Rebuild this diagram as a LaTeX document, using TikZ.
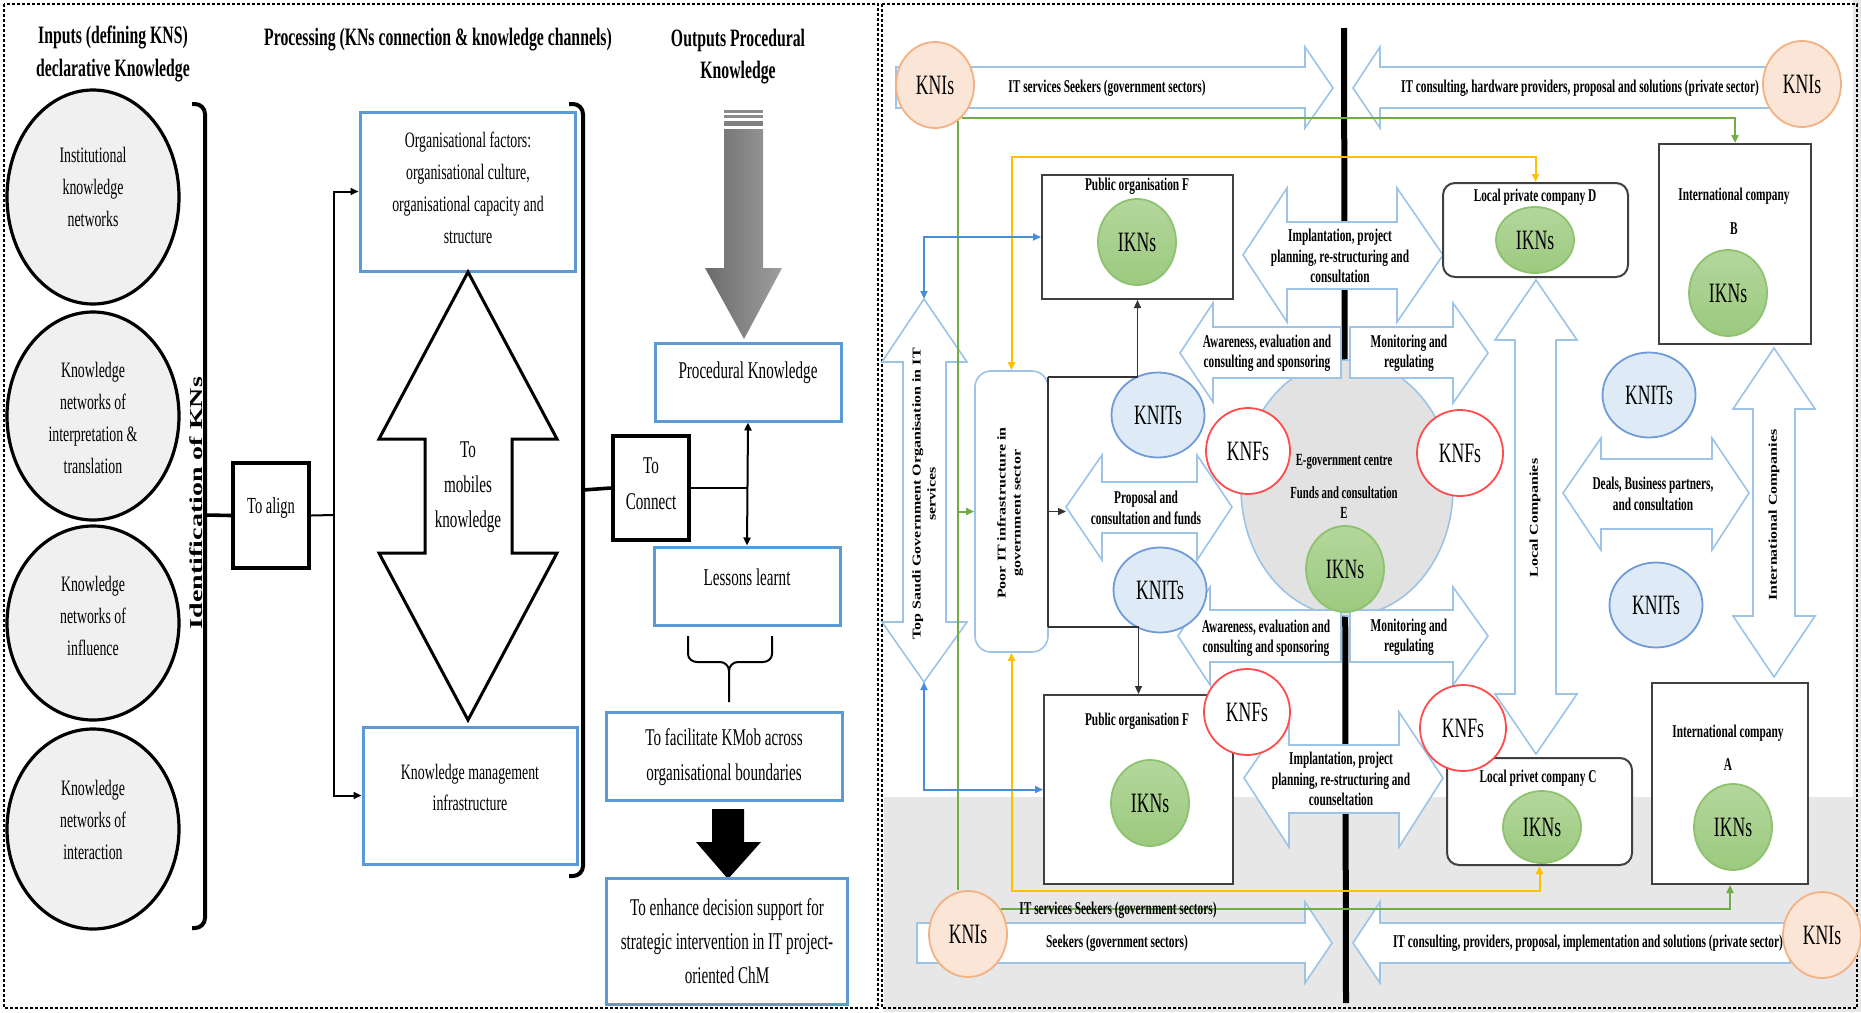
\documentclass[tikz,border=0pt]{standalone}
\usepackage{fontspec}
\usepackage{graphicx}
\setmainfont{Liberation Serif}[FakeStretch=0.63]
\newfontfamily\rotfont{Liberation Serif}
\usetikzlibrary{fit,arrows.meta,shapes.geometric}
\definecolor{boxblue}{HTML}{5B9BD5}
\definecolor{arrblue}{HTML}{9DC3E6}
\definecolor{knitfill}{HTML}{DEEBF7}
\definecolor{knitdraw}{HTML}{6F9BD8}
\definecolor{knfred}{HTML}{FF4B4B}
\definecolor{knifill}{HTML}{FBE5D6}
\definecolor{knidraw}{HTML}{F4B183}
\definecolor{iknA}{HTML}{B4D79C}
\definecolor{iknB}{HTML}{9CC97F}
\definecolor{ikndraw}{HTML}{8DC26F}
\definecolor{egov}{HTML}{E2E2E2}
\definecolor{bggray}{HTML}{E7E7E7}
\definecolor{lgreen}{HTML}{70AD47}
\definecolor{lyellow}{HTML}{FFC000}
\definecolor{lblue}{HTML}{4A8CD6}
\definecolor{circfill}{HTML}{F0F0F0}
\begin{document}
\begin{tikzpicture}[x=0.5pt,y=-0.5pt,
  >={Triangle[length=4pt,width=3.5pt]},
  dashbord/.style={draw=black,line width=1pt,dash pattern=on 1.5pt off 1pt},
  incirc/.style={ellipse,draw=black,line width=1.6pt,fill=circfill,minimum width=86pt,inner sep=0pt},
  obox/.style={draw=boxblue,line width=1.5pt,inner sep=0pt},
  kbox/.style={draw=black,line width=2.2pt,inner sep=0pt},
  cline/.style={draw=black,line width=1pt},
  barr/.style={draw=arrblue,fill=white,line width=0.8pt,line join=miter},
  pbox/.style={draw=black!75,line width=1pt,fill=white,inner sep=0pt},
  rbox/.style={draw=black!75,line width=1pt,fill=white,inner sep=0pt,rounded corners=6pt},
  knis/.style={ellipse,draw=knidraw,fill=knifill,line width=0.9pt,minimum width=39pt,minimum height=43pt,inner sep=0pt,font=\fontsize{14}{16}\selectfont},
  knfs/.style={ellipse,draw=knfred,fill=white,line width=0.9pt,minimum width=42pt,minimum height=43pt,inner sep=0pt,font=\fontsize{14}{16}\selectfont},
  knits/.style={ellipse,draw=knitdraw,fill=knitfill,line width=0.9pt,minimum width=46.5pt,minimum height=42.5pt,inner sep=0pt,font=\fontsize{14}{16}\selectfont},
  ikns/.style={ellipse,draw=ikndraw,top color=iknA,bottom color=iknB,line width=0.9pt,minimum width=39pt,minimum height=43pt,inner sep=0pt,font=\fontsize{14}{16}\selectfont},
  ttl/.style={font=\bfseries\fontsize{12.5}{15}\selectfont,inner sep=0pt},
  lt/.style={font=\fontsize{11}{16}\selectfont,align=center,inner sep=0pt},
  mt/.style={font=\fontsize{12}{17.5}\selectfont,align=center,inner sep=0pt},
  bl/.style={font=\bfseries\fontsize{9}{10.25}\selectfont,align=center,inner sep=0pt},
  gline/.style={draw=lgreen,line width=1pt},
  yline/.style={draw=lyellow,line width=1pt},
  bline/.style={draw=lblue,line width=1pt},
  kline/.style={draw=black!80,line width=0.7pt}
]
\useasboundingbox (0,0) rectangle (1861,1012);
\fill[white] (0,0) rectangle (1861,1012);
\fill[bggray] (884,797) rectangle (1861,1012);
\fill[bggray] (1853,0) rectangle (1861,797);
\draw[dashbord] (4,4) rectangle (878,1008);
\draw[dashbord] (882,4) rectangle (1857,1008);

% ================= LEFT PANEL =================
\node[ttl] at (113,37) {Inputs (defining KNS)};
\node[ttl] at (113,71) {declarative Knowledge};
\node[ttl] at (438,40) {Processing (KNs connection \& knowledge channels)};
\node[ttl] at (738,40) {Outputs Procedural};
\node[ttl] at (738,73) {Knowledge};

\node[incirc,minimum height=107pt] (c1) at (93,197) {};
\node[incirc,minimum height=104pt] (c2) at (93,416) {};
\node[incirc,minimum height=97pt] (c3) at (93,623) {};
\node[incirc,minimum height=100pt] (c4) at (93,829) {};
\node[lt] at (93,187) {Institutional\\knowledge\\networks};
\node[lt] at (93,418) {Knowledge\\networks of\\interpretation \&\\translation};
\node[lt] at (93,616) {Knowledge\\networks of\\influence};
\node[lt] at (93,820) {Knowledge\\networks of\\interaction};

\draw[line width=2pt,rounded corners=5pt] (192,104) -- (205,104) -- (205,928) -- (192,928);
\coordinate (braceL) at (205,515);
\node[rotate=90,inner sep=0pt] at (196,503) {\scalebox{1}[0.65]{\rotfont\bfseries\fontsize{14}{16}\selectfont Identification of KNs}};

\draw[line width=2pt,rounded corners=5pt] (569,104) -- (583,104) -- (583,876) -- (569,876);
\coordinate (braceR) at (583,490);

\node[kbox,fit={(233,463) (309,568)}] (toAlign) {};
\node[font=\fontsize{11.5}{14}\selectfont] at (271,508) {To align};

\node[obox,fit={(360,112) (575,271)}] (orgBox) {};
\node[lt] at (468,188) {Organisational factors:\\organisational culture,\\organisational capacity and\\structure};

\draw[line width=1.5pt,fill=white,line join=miter] (468,272) -- (557,439) -- (512,439) -- (512,553) -- (557,553) -- (468,720) -- (379,553) -- (425,553) -- (425,439) -- (379,439) -- cycle;
\node[mt] at (468,487) {To\\mobiles\\knowledge};

\node[obox,fit={(363,727) (577,864)}] (kmBox) {};
\node[font=\fontsize{11}{15.5}\selectfont,align=center] at (470,787) {Knowledge management\\infrastructure};

\node[kbox,fit={(613,436) (689,540)}] (toConnect) {};
\node[font=\fontsize{12}{18}\selectfont,align=center] at (651,484) {To\\Connect};

\shade[left color=black!58,right color=black!38] (724,129) -- (763,129) -- (763,268) -- (782,268) -- (744,339) -- (705,268) -- (724,268) -- cycle;
\fill[black!45] (724,110) rectangle (763,112.5);
\fill[black!45] (724,115) rectangle (763,118);
\fill[black!50] (724,121) rectangle (763,126);

\node[obox,fit={(655,343) (841,421)}] (procBox) {};
\node[mt] at (748,373) {Procedural Knowledge};
\node[obox,fit={(654,547) (840,625)}] (lessBox) {};
\node[mt] at (747,577) {Lessons learnt};
\node[obox,fit={(606,712) (842,800)}] (facBox) {};
\node[mt] at (724,757) {To facilitate KMob across\\organisational boundaries};
\fill[black] (712,809) -- (744,809) -- (744,842) -- (761,842) -- (728,879) -- (696,842) -- (712,842) -- cycle;
\node[obox,fit={(606,878) (847,1004)}] (enhBox) {};
\node[font=\fontsize{12}{17}\selectfont,align=center] at (727,941) {To enhance decision support for\\strategic intervention in IT project-\\oriented ChM};

\draw[line width=1.8pt] (braceL) -- (toAlign.west);
\coordinate (jA) at (334,515);
\draw[cline] (toAlign.east) -- (jA);
\draw[cline,->] (jA) |- (orgBox.west);
\draw[cline,->] (jA) |- (kmBox.west);
\draw[line width=1.8pt] (braceR) -- (toConnect.west);
\draw[cline] (toConnect.east) -- (toConnect.east -| procBox.south);
\draw[cline,<->] (procBox.south) -- (lessBox.north);
\draw[line width=1pt] (688,636) -- (688,654) to[out=-90,in=180] (697,662) -- (720,662) to[out=0,in=90] (729,671) -- (729,702);
\draw[line width=1pt] (772,636) -- (772,654) to[out=-90,in=0] (763,662) -- (738,662) to[out=180,in=90] (729,671);

% ================= RIGHT PANEL =================
\draw[line width=3pt] (1344,28) -- (1346,1003);
\node[ellipse,draw=arrblue,fill=egov,line width=0.8pt,minimum width=106pt,minimum height=128pt,inner sep=0pt] (egov) at (1347,488) {};

% block arrows
\draw[barr] (896,67) -- (1305,67) -- (1305,47) -- (1333,88) -- (1305,128) -- (1305,108) -- (896,108) -- cycle;
\draw[barr] (1775,67) -- (1380,67) -- (1380,47) -- (1353,88) -- (1380,128) -- (1380,108) -- (1775,108) -- cycle;
\draw[barr] (917,923) -- (1305,923) -- (1305,902) -- (1332,943) -- (1305,983) -- (1305,963) -- (917,963) -- cycle;
\draw[barr] (1790,923) -- (1380,923) -- (1380,902) -- (1353,943) -- (1380,983) -- (1380,963) -- (1790,963) -- cycle;
% horizontal double arrows
\draw[barr] (1243,255) -- (1287,188) -- (1287,222) -- (1397,222) -- (1397,188) -- (1443,255) -- (1397,322) -- (1397,289) -- (1287,289) -- (1287,322) -- cycle;
\draw[barr] (1244,778) -- (1289,712) -- (1289,745) -- (1399,745) -- (1399,712) -- (1443,778) -- (1399,847) -- (1399,813) -- (1289,813) -- (1289,847) -- cycle;
\draw[barr] (1066,507) -- (1102,455) -- (1102,482) -- (1197,482) -- (1197,455) -- (1232,507) -- (1197,560) -- (1197,533) -- (1102,533) -- (1102,560) -- cycle;
\draw[barr] (1563,493) -- (1601,438) -- (1601,459) -- (1712,459) -- (1712,438) -- (1749,493) -- (1712,550) -- (1712,529) -- (1601,529) -- (1601,550) -- cycle;
% vertical double arrows
\draw[barr] (924,299) -- (967,362) -- (946,362) -- (946,622) -- (967,622) -- (924,682) -- (882,622) -- (903,622) -- (903,362) -- (882,362) -- cycle;
\draw[barr] (1536,280) -- (1577,340) -- (1556,340) -- (1556,694) -- (1577,694) -- (1536,754) -- (1495,694) -- (1515,694) -- (1515,340) -- (1495,340) -- cycle;
\draw[barr] (1774,348) -- (1815,409) -- (1795,409) -- (1795,616) -- (1815,616) -- (1774,677) -- (1733,616) -- (1753,616) -- (1753,409) -- (1733,409) -- cycle;
% single arrows round E
\draw[barr] (1341,327) -- (1213,327) -- (1213,303) -- (1180,353) -- (1213,402) -- (1213,378) -- (1341,378) -- cycle;
\draw[barr] (1341,610) -- (1210,610) -- (1210,587) -- (1178,636) -- (1210,685) -- (1210,662) -- (1341,662) -- cycle;
\draw[barr] (1350,327) -- (1453,327) -- (1453,303) -- (1488,353) -- (1453,403) -- (1453,378) -- (1350,378) -- cycle;
\draw[barr] (1350,610) -- (1453,610) -- (1453,587) -- (1488,636) -- (1453,685) -- (1453,662) -- (1350,662) -- cycle;
\coordinate (saudiTop) at (924,299);
\coordinate (saudiBot) at (924,682);
\coordinate (propL) at (1066,507);

% boxes
\node[pbox,fit={(1042,175) (1233,299)}] (pubF1) {};
\node[pbox,fit={(1044,695) (1233,884)}] (pubF2) {};
\node[rbox,fit={(1443,183) (1628,277)}] (localD) {};
\node[rbox,fit={(1447,758) (1632,865)}] (localC) {};
\node[pbox,fit={(1659,144) (1811,344)}] (intlB) {};
\node[pbox,fit={(1652,683) (1808,884)}] (intlA) {};
\node[draw=arrblue,line width=0.8pt,fill=white,rounded corners=8pt,inner sep=0pt,fit={(975,371) (1048,652)}] (poorIT) {};

% circles
\node[knis] (knis1) at (935,85) {KNIs};
\node[knis] (knis2) at (1802,84) {KNIs};
\node[knis] (knis3) at (968,934) {KNIs};
\node[knis] (knis4) at (1822,935) {KNIs};
\node[ikns] (ikn1) at (1137,242) {IKNs};
\node[ikns,minimum height=33pt] (ikn2) at (1535,240) {IKNs};
\node[ikns] (ikn3) at (1728,293) {IKNs};
\node[ikns] (ikn4) at (1345,569) {IKNs};
\node[ikns] (ikn5) at (1150,803) {IKNs};
\node[ikns,minimum height=36pt] (ikn6) at (1542,827) {IKNs};
\node[ikns] (ikn7) at (1733,827) {IKNs};
\node[knits] (knit1) at (1158,415) {KNITs};
\node[knits] (knit2) at (1160,590) {KNITs};
\node[knits] (knit3) at (1649,395) {KNITs};
\node[knits] (knit4) at (1656,605) {KNITs};
\node[knfs] (knf1) at (1248,451) {KNFs};
\node[knfs,minimum width=43pt] (knf2) at (1460,453) {KNFs};
\node[knfs,minimum width=43pt] (knf3) at (1247,712) {KNFs};
\node[knfs,minimum width=43pt] (knf4) at (1463,728) {KNFs};

% connectors
\coordinate (ytop) at (1011,157);
\coordinate (ybot) at (1011,891);
\coordinate (brTop) at (1048,377);
\coordinate (brBot) at (1048,627);
\draw[gline] (knis1.-58) -- (knis1.-58 |- knis3.north);
\draw[gline,->] (knis1.-51) -| (intlB.north);
\draw[gline,->] (poorIT.west -| knis1.-58) -- (poorIT.west);
\draw[gline,->] (knis3.37) -| (intlA.south);
\draw[yline,<->] (poorIT.north) -- (poorIT.north |- ytop) -| (localD.north);
\draw[yline,<->] (poorIT.south) -- (poorIT.south |- ybot) -| (localC.south);
\draw[bline,<->] (saudiTop) |- (pubF1.west);
\draw[bline,<->] (saudiBot) |- (pubF2.west);
\draw[kline] (brTop) -- (brBot);
\draw[kline,->] (brTop) -| (pubF1.south);
\draw[kline,->] (brBot) -| (pubF2.north);
\draw[kline,->] (poorIT.east) -- (poorIT.east -| propL);

% texts right panel
\node[bl] at (1107,88) {IT services Seekers (government sectors)};
\node[bl] at (1580,88) {IT consulting, hardware providers, proposal and solutions (private sector)};
\node[bl] at (1137,186) {Public organisation F};
\node[bl] at (1137,721) {Public organisation F};
\node[bl] at (1535,197) {Local private company D};
\node[bl] at (1538,778) {Local privet company C};
\node[bl,font=\bfseries\fontsize{9}{17}\selectfont] at (1734,211) {International company\\B};
\node[bl,font=\bfseries\fontsize{9}{16.5}\selectfont] at (1728,748) {International company\\A};
\node[bl] at (1340,256) {Implantation, project\\planning, re-structuring and\\consultation};
\node[bl] at (1341,779) {Implantation, project\\planning, re-structuring and\\counseltation};
\node[bl] at (1267,353) {Awareness, evaluation and\\consulting and sponsoring};
\node[bl] at (1266,638) {Awareness, evaluation and\\consulting and sponsoring};
\node[bl] at (1409,353) {Monitoring and\\regulating};
\node[bl] at (1409,637) {Monitoring and\\regulating};
\node[bl] at (1146,508) {Proposal and\\consultation and funds};
\node[bl,font=\bfseries\fontsize{8.5}{10}\selectfont] at (1344,462) {E-government centre};
\node[bl,font=\bfseries\fontsize{8.5}{10}\selectfont] at (1344,503) {Funds and consultation\\E};
\node[bl] at (1653,494) {Deals, Business partners,\\and consultation};
\node[bl] at (1118,910) {IT services Seekers (government sectors)};
\node[bl] at (1117,943) {Seekers (government sectors)};
\node[bl] at (1588,943) {IT consulting, providers, proposal, implementation and solutions (private sector)};
\node[rotate=90,inner sep=0pt] at (925,494) {\scalebox{1}[0.75]{\rotfont\bfseries\fontsize{8}{10}\selectfont\begin{tabular}{@{}c@{}}Top Saudi Government Organisation in IT\\services\end{tabular}}};
\node[rotate=90,inner sep=0pt] at (1010,513) {\scalebox{1}[0.75]{\rotfont\bfseries\fontsize{8}{10}\selectfont\begin{tabular}{@{}c@{}}Poor IT infrastructure in\\government sector\end{tabular}}};
\node[rotate=90,inner sep=0pt] at (1535,518) {\scalebox{1}[0.75]{\rotfont\bfseries\fontsize{8}{10}\selectfont Local Companies}};
\node[rotate=90,inner sep=0pt] at (1774,515) {\scalebox{1}[0.75]{\rotfont\bfseries\fontsize{8}{10}\selectfont International Companies}};
\end{tikzpicture}
\end{document}
